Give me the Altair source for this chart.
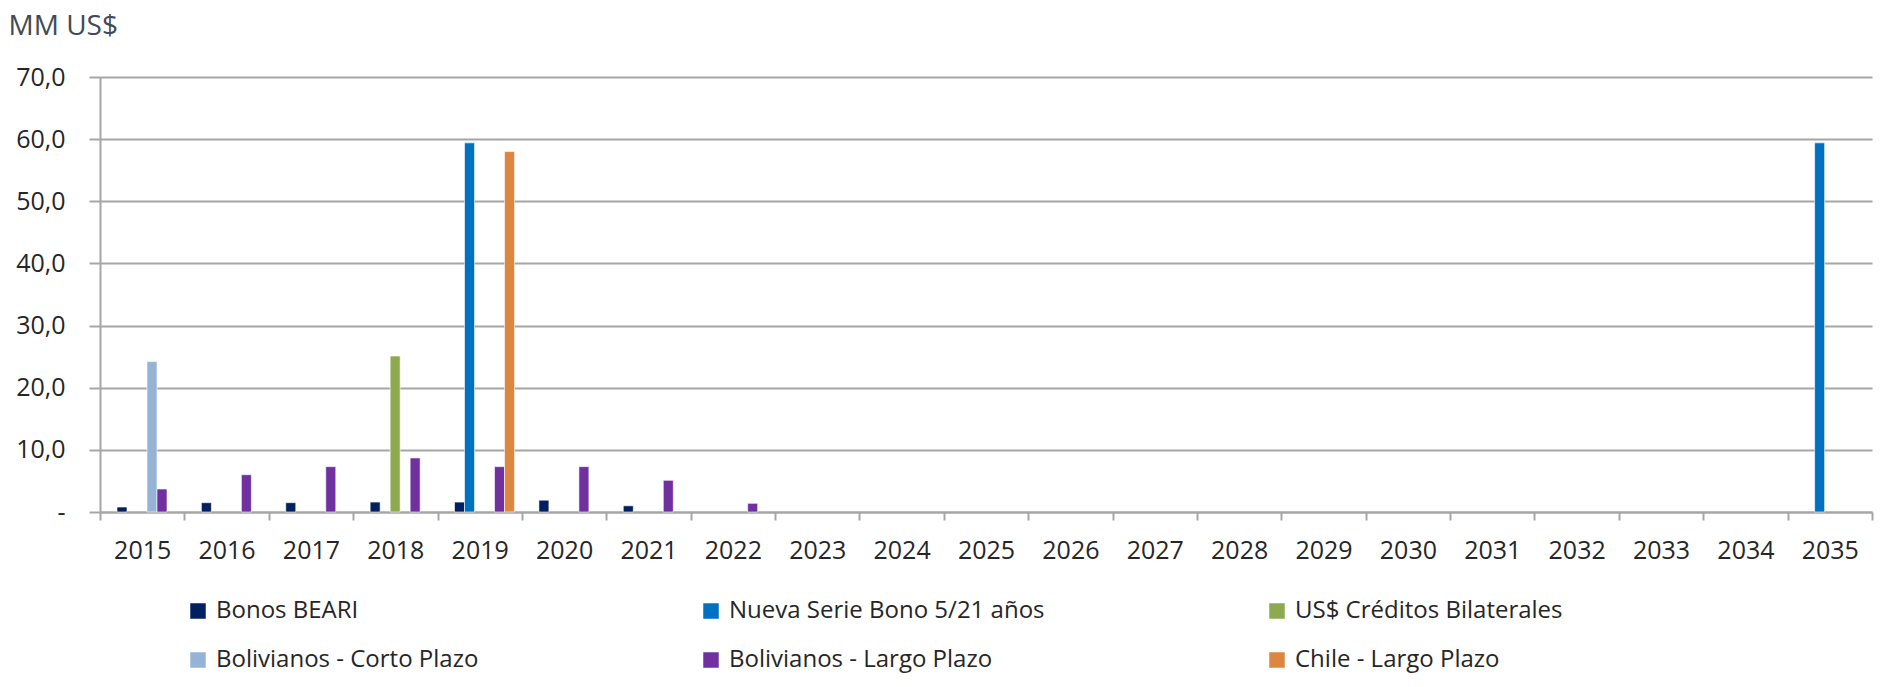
import altair as alt
import pandas as pd

# Vencimientos anuales por tipo de deuda (millones de US$)
years = [str(y) for y in range(2015, 2036)]

series_names = [
    "Bonos BEARI",
    "Nueva Serie Bono 5/21 años",
    "US$ Créditos Bilaterales",
    "Bolivianos - Corto Plazo",
    "Bolivianos - Largo Plazo",
    "Chile - Largo  Plazo",
]
series_colors = ["#002060", "#0070C0", "#8EAA4E", "#95B3D7", "#7030A0", "#DD8640"]

bonos_beari = [0.8, 1.5, 1.5, 1.6, 1.6, 1.9, 1.0, 0, 0, 0, 0, 0, 0, 0, 0, 0, 0, 0, 0, 0, 0]
nueva_serie = [0, 0, 0, 0, 59.4, 0, 0, 0, 0, 0, 0, 0, 0, 0, 0, 0, 0, 0, 0, 0, 59.4]
creditos_bilaterales = [0, 0, 0, 25.1, 0, 0, 0, 0, 0, 0, 0, 0, 0, 0, 0, 0, 0, 0, 0, 0, 0]
bs_corto_plazo = [24.2, 0, 0, 0, 0, 0, 0, 0, 0, 0, 0, 0, 0, 0, 0, 0, 0, 0, 0, 0, 0]
bs_largo_plazo = [3.7, 6.0, 7.3, 8.7, 7.3, 7.3, 5.1, 1.4, 0, 0, 0, 0, 0, 0, 0, 0, 0, 0, 0, 0, 0]
chile_largo_plazo = [0, 0, 0, 0, 58.0, 0, 0, 0, 0, 0, 0, 0, 0, 0, 0, 0, 0, 0, 0, 0, 0]

y_ticks = [0, 10, 20, 30, 40, 50, 60, 70]

all_series = [bonos_beari, nueva_serie, creditos_bilaterales,
              bs_corto_plazo, bs_largo_plazo, chile_largo_plazo]

rows = []
for name, values in zip(series_names, all_series):
    for year, v in zip(years, values):
        if v > 0:
            rows.append({"Año": year, "Serie": name, "Monto": v})
df = pd.DataFrame(rows)

FONT = "Open Sans"
TEXT = "#262626"
GRID = "#A6A6A6"

# accounting-style zero: a dash followed by non-breaking spaces
zero_label = "-\u00a0\u00a0"
y_label_expr = (
    f"datum.value == 0 ? '{zero_label}' : "
    "replace(format(datum.value, '.1f'), '.', ',')"
)

bars = alt.Chart(df).mark_bar(stroke="white", strokeWidth=0.6).encode(
    x=alt.X(
        "Año:N",
        sort=years,
        scale=alt.Scale(domain=years, paddingInner=0, paddingOuter=0),
        axis=alt.Axis(
            title=None,
            labelAngle=0,
            labelFont=FONT,
            labelFontSize=25,
            labelColor=TEXT,
            labelPadding=18,
            tickBand="extent",
            tickSize=8,
            tickColor=GRID,
            tickWidth=2,
            domainColor=GRID,
            domainWidth=2,
            grid=False,
        ),
    ),
    xOffset=alt.XOffset(
        "Serie:N",
        sort=series_names,
        scale=alt.Scale(domain=series_names, range=[17, 77], paddingInner=0, paddingOuter=0),
    ),
    y=alt.Y(
        "Monto:Q",
        scale=alt.Scale(domain=[0, 70], nice=False),
        axis=alt.Axis(
            values=y_ticks,
            labelExpr=y_label_expr,
            labelFont=FONT,
            labelFontSize=25,
            labelColor=TEXT,
            labelPadding=24,
            tickSize=11,
            tickColor=GRID,
            tickWidth=2,
            domainColor=GRID,
            domainWidth=2,
            gridColor=GRID,
            gridWidth=2,
            title="MM US$",
            titleAngle=0,
            titleFont=FONT,
            titleFontSize=28,
            titleFontWeight="normal",
            titleColor="#404B55",
            titleAlign="left",
            titleBaseline="alphabetic",
            titleX=-92,
            titleY=-43,
        ),
    ),
    color=alt.Color(
        "Serie:N",
        sort=series_names,
        scale=alt.Scale(domain=series_names, range=series_colors),
        legend=alt.Legend(
            title=None,
            orient="none",
            legendX=86,
            legendY=522,
            direction="horizontal",
            columns=3,
            columnPadding=220,
            rowPadding=25,
            symbolType="square",
            symbolSize=240,
            symbolStrokeWidth=0,
            labelFont=FONT,
            labelFontSize=24,
            labelColor=TEXT,
            labelOffset=6,
            labelLimit=400,
            padding=0,
        ),
    ),
)

chart = bars.properties(
    width=1772,
    height=435,
    autosize=alt.AutoSizeParams(type="none"),
    padding={"left": 100, "top": 77, "right": 10, "bottom": 175},
    background="white",
).configure_view(stroke=None)

chart.save("out.html", embed_options={"renderer": "svg", "actions": False})
